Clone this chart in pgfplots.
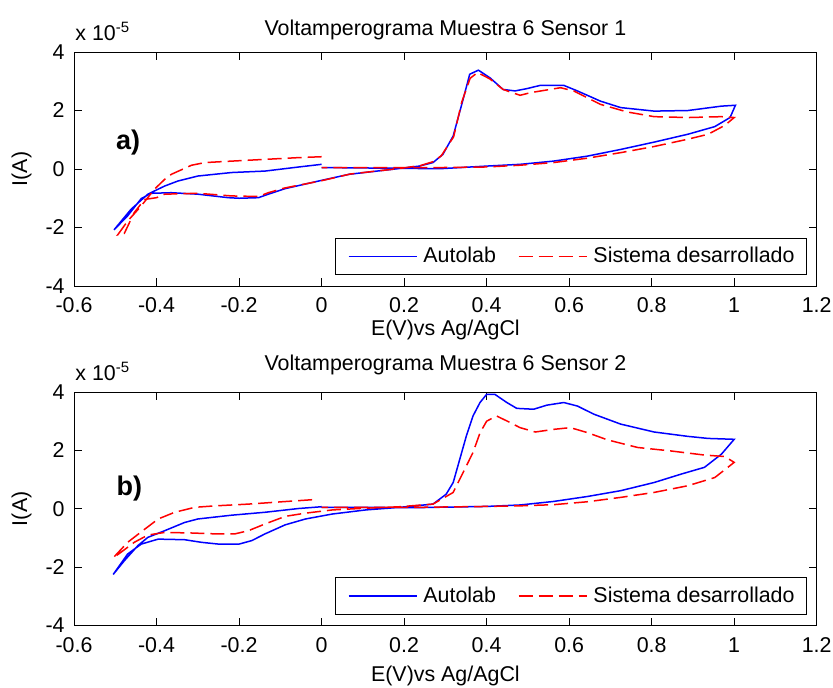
\documentclass[border=0pt]{standalone}
\usepackage{pgfplots}
\pgfplotsset{compat=1.18}
\usepackage{fontspec}
\setmainfont{Liberation Sans}
\definecolor{mblue}{RGB}{0,0,255}
\definecolor{mred}{RGB}{255,0,0}
\pgfplotsset{
  cvaxis/.style={
    anchor=south west, scale only axis,
    width=371.35pt,
    xmin=-0.6, xmax=1.2, ymin=-4, ymax=4,
    xtick={-0.6,-0.4,-0.2,0,0.2,0.4,0.6,0.8,1,1.2},
    xticklabels={-0.6,-0.4,-0.2,0,0.2,0.4,0.6,0.8,1,1.2},
    ytick={-4,-2,0,2,4},
    yticklabels={-4,-2,0,2,4},
    /pgf/number format/assume math mode=true,
    tick align=inside, major tick length=4pt,
    xtick pos=both, ytick pos=both,
    axis line style={black, line width=0.5pt},
    every tick/.style={black, line width=0.5pt},
    xticklabel style={anchor=base, inner sep=0pt, yshift=-13.3pt},
    yticklabel style={anchor=east, inner sep=0pt, xshift=-4.5pt},
    legend columns=2,
    legend image code/.code={\draw[#1] (0pt,0pt) -- (34pt,0pt);},
    legend style={at={(1,0)}, anchor=south east, xshift=-4.85pt, yshift=5.5pt,
      draw=black, line width=0.5pt, fill=white,
      inner xsep=6pt, inner ysep=4.5pt,
      nodes={inner sep=0pt, anchor=west},
      /tikz/every odd column/.append style={column sep=3pt},
      /tikz/every even column/.append style={column sep=11pt}},
  },
  bl/.style={mblue, line width=0.75pt},
  rd/.style={mred, line width=0.75pt, dash pattern=on 7pt off 3pt},
}
\begin{document}
\begin{tikzpicture}[font=\fontsize{10.7}{12.8}\selectfont]
\useasboundingbox (0pt,0pt) rectangle (416.5pt,-343.5pt);
% ---------- top panel ----------
\begin{axis}[cvaxis, at={(37pt,-143pt)}, height=117pt]
\addplot[bl] coordinates {
(0.0,0.16) (-0.055,0.07) (-0.137,-0.07) (-0.218,-0.12) (-0.30,-0.24) (-0.348,-0.41)
(-0.38,-0.58) (-0.421,-0.86) (-0.462,-1.38) (-0.503,-2.08)
(-0.47,-1.6) (-0.437,-1.01) (-0.413,-0.83) (-0.364,-0.81) (-0.30,-0.86) (-0.226,-0.98)
(-0.20,-1.0) (-0.153,-0.98) (-0.129,-0.86) (-0.088,-0.67) (-0.007,-0.41) (0.067,-0.18)
(0.19,0.02) (0.237,0.10) (0.27,0.22) (0.294,0.50) (0.319,1.13) (0.343,2.38) (0.359,3.24)
(0.38,3.38) (0.408,3.12) (0.44,2.72) (0.469,2.67) (0.498,2.75) (0.53,2.86) (0.587,2.86)
(0.62,2.67) (0.676,2.32) (0.725,2.10) (0.806,1.98) (0.888,2.0) (0.969,2.15) (1.003,2.18)
(0.99,1.76) (0.953,1.45) (0.888,1.19) (0.806,0.92) (0.725,0.67) (0.644,0.44) (0.562,0.27)
(0.481,0.16) (0.40,0.10) (0.286,0.01) (0.15,0.03) (0.0,0.05)
};
\addlegendentry{Autolab}
\addplot[rd] coordinates {
(0.0,0.42) (-0.055,0.39) (-0.137,0.33) (-0.218,0.27) (-0.283,0.22) (-0.315,0.13)
(-0.364,-0.18) (-0.38,-0.35) (-0.405,-0.69) (-0.437,-1.26) (-0.47,-1.78) (-0.494,-2.25)
(-0.478,-2.2) (-0.454,-1.49) (-0.429,-1.04) (-0.40,-0.98) (-0.38,-0.86) (-0.30,-0.83)
(-0.218,-0.92) (-0.153,-0.94) (-0.129,-0.81) (-0.09,-0.65) (0.0,-0.40) (0.07,-0.17)
(0.19,0.02) (0.24,0.12) (0.27,0.25) (0.29,0.45) (0.32,1.1) (0.34,2.3) (0.36,3.1) (0.378,3.3)
(0.408,3.08) (0.44,2.72) (0.481,2.52) (0.506,2.61) (0.579,2.78) (0.611,2.67) (0.676,2.21)
(0.741,1.95) (0.806,1.79) (0.888,1.76) (0.969,1.79) (1.0,1.76) (0.977,1.49) (0.937,1.19)
(0.888,1.02) (0.806,0.77) (0.725,0.56) (0.644,0.37) (0.562,0.22) (0.481,0.13) (0.40,0.07)
(0.286,0.05) (0.0,0.05)
};
\addlegendentry{Sistema desarrollado}
\node[font=\fontsize{13.5}{15}\selectfont\bfseries] at (axis cs:-0.469,0.92) {a)};
\end{axis}
% ---------- bottom panel ----------
\begin{axis}[cvaxis, at={(37pt,-312.75pt)}, height=116.75pt]
\addplot[bl] coordinates {
(0.0,0.07) (-0.055,0.01) (-0.137,-0.12) (-0.218,-0.22) (-0.30,-0.35) (-0.332,-0.47)
(-0.38,-0.75) (-0.421,-0.98) (-0.445,-1.26) (-0.478,-1.78) (-0.505,-2.25)
(-0.47,-1.55) (-0.437,-1.21) (-0.396,-1.04) (-0.332,-1.06) (-0.291,-1.15) (-0.25,-1.21)
(-0.20,-1.21) (-0.169,-1.09) (-0.137,-0.86) (-0.088,-0.55) (-0.039,-0.35) (0.026,-0.18)
(0.107,-0.04) (0.19,0.05) (0.27,0.16) (0.302,0.50) (0.319,0.90) (0.335,1.70) (0.351,2.50)
(0.367,3.18) (0.384,3.64) (0.40,3.92) (0.42,3.92) (0.449,3.64) (0.473,3.44) (0.514,3.41)
(0.546,3.55) (0.587,3.64) (0.62,3.52) (0.66,3.24) (0.725,2.90) (0.806,2.63) (0.888,2.48)
(0.937,2.41) (1.0,2.38) (0.969,1.87) (0.928,1.42) (0.872,1.19) (0.806,0.90) (0.725,0.62)
(0.644,0.42) (0.562,0.25) (0.481,0.13) (0.40,0.08) (0.237,0.04) (0.0,0.05)
};
\addlegendentry{Autolab}
\addplot[rd] coordinates {
(-0.023,0.31) (-0.096,0.24) (-0.177,0.16) (-0.258,0.10) (-0.307,0.05) (-0.356,-0.12)
(-0.396,-0.35) (-0.437,-0.79) (-0.47,-1.15) (-0.505,-1.68)
(-0.486,-1.49) (-0.454,-1.15) (-0.421,-0.90) (-0.38,-0.81) (-0.315,-0.83) (-0.258,-0.86)
(-0.21,-0.86) (-0.177,-0.75) (-0.137,-0.52) (-0.088,-0.26) (-0.039,-0.15) (0.026,-0.04)
(0.107,0.02) (0.19,0.07) (0.27,0.16) (0.319,0.56) (0.343,1.24) (0.367,1.93) (0.384,2.6)
(0.40,3.0) (0.424,3.18) (0.449,3.01) (0.481,2.78) (0.518,2.63) (0.562,2.72) (0.603,2.78)
(0.644,2.61) (0.693,2.36) (0.766,2.10) (0.847,1.98) (0.928,1.84) (0.977,1.79) (1.0,1.59)
(0.981,1.38) (0.953,1.07) (0.888,0.79) (0.806,0.56) (0.725,0.39) (0.644,0.24) (0.562,0.14)
(0.481,0.10) (0.40,0.08) (0.237,0.05) (0.0,0.05)
};
\addlegendentry{Sistema desarrollado}
\node[font=\fontsize{13.5}{15}\selectfont\bfseries] at (axis cs:-0.466,0.71) {b)};
\end{axis}
% ---------- titles and labels ----------
\node[anchor=base] at (222.7pt,-17.5pt) {Voltamperograma Muestra 6 Sensor 1};
\node[anchor=base] at (222.7pt,-185pt) {Voltamperograma Muestra 6 Sensor 2};
\node[anchor=base] at (222.7pt,-167.5pt) {E(V)vs Ag/AgCl};
\node[anchor=base] at (222.7pt,-340.8pt) {E(V)vs Ag/AgCl};
\node[rotate=90] at (10.85pt,-84.5pt) {I(A)};
\node[rotate=90] at (10.85pt,-254.4pt) {I(A)};
\node[anchor=base west, inner sep=0pt] at (37.5pt,-20.35pt) {x 10\textsuperscript{-5}};
\node[anchor=base west, inner sep=0pt] at (37.5pt,-190pt) {x 10\textsuperscript{-5}};
\end{tikzpicture}
\end{document}
